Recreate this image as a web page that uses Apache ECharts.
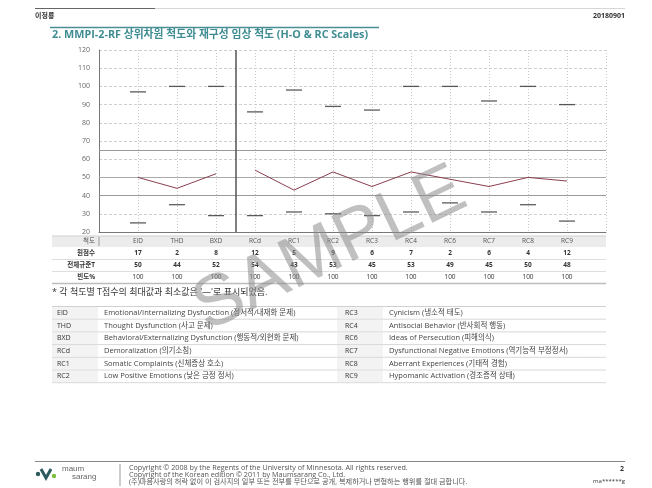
<!DOCTYPE html>
<html>
<head>
<meta charset="utf-8">
<script src="https://cdn.jsdelivr.net/npm/echarts@6/dist/echarts.min.js"></script>
<style>
html,body{margin:0;padding:0;background:#fff;}
#c{width:652px;height:488px;}
</style>
</head>
<body>
<div id="c"></div>
<script>
// ---------- data ----------
const categories = ['EID','THD','BXD','RCd','RC1','RC2','RC3','RC4','RC6','RC7','RC8','RC9'];
const tScores   = [50,44,52,54,43,53,45,53,49,45,50,48];
const maxT      = [97,100,100,86,98,89,87,100,100,92,100,90];
const minT      = [25,35,29,29,31,30,29,31,36,31,35,26];
const rawScores = [17,2,8,12,5,9,6,7,2,6,4,12];
const freqPct   = [100,100,100,100,100,100,100,100,100,100,100,100];
const hoCount = 3; // H-O scales: EID, THD, BXD
const yMin = 20, yMax = 120, yStep = 10;
const refLines = [65,50,40];
const rowLabels = ['원점수','전체규준T','빈도%'];
const descLeftCodes = ['EID','THD','BXD','RCd','RC1','RC2'];
const descLeftText = ['Emotional/Internalizing Dysfunction (정서적/내재화 문제)','Thought Dysfunction (사고 문제)','Behavioral/Externalizing Dysfunction (행동적/외현화 문제)','Demoralization (의기소침)','Somatic Complaints (신체증상 호소)','Low Positive Emotions (낮은 긍정 정서)'];
const descRightCodes = ['RC3','RC4','RC6','RC7','RC8','RC9'];
const descRightText = ['Cynicism (냉소적 태도)','Antisocial Behavior (반사회적 행동)','Ideas of Persecution (피해의식)','Dysfunctional Negative Emotions (역기능적 부정정서)','Aberrant Experiences (기태적 경험)','Hypomanic Activation (경조증적 상태)'];

// ---------- chart ----------
const FONT = '"Open Sans","Noto Sans CJK KR",sans-serif';
const chart = echarts.init(document.getElementById('c'), null, {renderer:'canvas'});

const pos = categories.map((c,i)=>i+1);
const ho = pos.slice(0,hoCount).map((x,i)=>[x,tScores[i]]);
const rc = pos.slice(hoCount).map((x,i)=>[x,tScores[i+hoCount]]);
const maxPts = pos.map((x,i)=>[x,maxT[i]]);
const minPts = pos.map((x,i)=>[x,minT[i]]);

const option = {
  animation:false,
  backgroundColor:'#fff',
  grid:{left:99,right:46,top:50,bottom:256,containLabel:false},
  xAxis:{type:'value',min:0,max:categories.length+1,interval:1,
    axisLabel:{show:false},axisTick:{show:false},
    axisLine:{show:true,lineStyle:{color:'#777',width:1}},
    splitLine:{show:true,lineStyle:{color:'#c8c8c8',type:[1,2],width:1}}},
  yAxis:{type:'value',min:yMin,max:yMax,interval:yStep,
    axisLabel:{fontSize:7,color:'#666',margin:9,fontFamily:FONT},
    axisTick:{show:false},
    axisLine:{show:true,lineStyle:{color:'#777',width:1}},
    splitLine:{show:true,lineStyle:{color:'#cfcfcf',type:[3,2],width:1}}},
  series:[
    {type:'line',data:ho,symbol:'none',lineStyle:{color:'#8a3f4f',width:1},z:5,
     markLine:{silent:true,symbol:'none',label:{show:false},
       data:refLines.map(v=>({yAxis:v,lineStyle:{color:v===50?'#aaa':'#999',width:1,type:'solid'}})).concat([{xAxis:hoCount+0.5,lineStyle:{color:'#555',width:1.5,type:'solid'}}])}},
    {type:'line',data:rc,symbol:'none',lineStyle:{color:'#8a3f4f',width:1},z:5},
    {type:'scatter',data:maxPts,symbol:'rect',symbolSize:[16,1.3],itemStyle:{color:'#333'},z:6},
    {type:'scatter',data:minPts,symbol:'rect',symbolSize:[16,1.3],itemStyle:{color:'#333'},z:6}
  ]
};
chart.setOption(option);

// ---------- page texts & tables ----------
function txt(text,x,y,o){
  o=o||{};
  return {type:'text',silent:true,z:o.z||10,rotation:o.rotation||0,x:x,y:y,
    style:{text:text,x:0,y:0,fill:o.color||'#333',
      font:(o.weight||'normal')+' '+(o.size||7)+'px '+(o.family||FONT),
      align:o.align||'left',textAlign:o.align||'left',
      verticalAlign:'middle',textVerticalAlign:'middle',opacity:o.opacity==null?1:o.opacity}};
}
function rect(x,y,w,h,fill,z){return {type:'rect',silent:true,z:z||1,shape:{x:x,y:y,width:w,height:h},style:{fill:fill}};}
function hline(x1,x2,y,color,w,z){return {type:'line',silent:true,z:z||2,shape:{x1:x1,y1:y,x2:x2,y2:y},style:{stroke:color,lineWidth:w||1}};}
function vline(x,y1,y2,color,w,z){return {type:'line',silent:true,z:z||2,shape:{x1:x,y1:y1,x2:x,y2:y2},style:{stroke:color,lineWidth:w||1}};}

const g=[];
// header
g.push(hline(35,625,8.5,'#d6d6d6',1));
g.push(hline(35,155,8.5,'#666',1.2,3));
g.push(txt('이정룡',35,16,{size:7,weight:'bold',color:'#333'}));
g.push(txt('20180901',625,16,{size:7,weight:'bold',color:'#333',align:'right'}));
g.push(hline(50,379,27.5,'#4a8e93',1.5));
g.push(txt('2. MMPI-2-RF 상위차원 척도와 재구성 임상 척도 (H-O & RC Scales)',52,35,{size:10.8,weight:'bold',color:'#3f8d93'}));

// score table
const tL=52,tR=606;
const colX = pos.map(p=>chart.convertToPixel({xAxisIndex:0},p));
g.push(rect(tL,236,tR-tL,11,'#ececec',1));
g.push(hline(tL,tR,236,'#cfcfcf',1));
g.push(vline(99,237,246,'#999',1));
g.push(txt('척도',95,241.5,{size:6.5,color:'#555',align:'right'}));
categories.forEach((c,i)=>g.push(txt(c,colX[i],241.5,{size:6.5,color:'#555',align:'center'})));
const rowY=[253.5,265.5,277.5];
const rowData=[rawScores,tScores,freqPct];
rowLabels.forEach((l,r)=>{
  g.push(txt(l,95,rowY[r],{size:6.5,weight:'bold',color:'#333',align:'right'}));
  rowData[r].forEach((v,i)=>g.push(txt(String(v),colX[i],rowY[r],{size:6.5,weight:r<2?'bold':'normal',color:'#333',align:'center'})));
  g.push(hline(tL,tR,rowY[r]+6,r===2?'#bdbdbd':'#dedede',r===2?1.5:1));
});
g.push(txt("* 각 척도별 T점수의 최대값과 최소값은 '—'로 표시되었음.",52,292,{size:9,color:'#333'}));

// description table
const dTop=306.5,dRow=12.7;
g.push(hline(tL,tR,dTop,'#d0d0d0',1));
for(let r=0;r<6;r++){
  const y0=dTop+r*dRow, yc=y0+dRow/2;
  g.push(rect(52,y0+0.5,46,dRow-1,'#f3f3f3',1));
  g.push(rect(337,y0+0.5,46,dRow-1,'#f3f3f3',1));
  g.push(txt(descLeftCodes[r],57,yc,{size:7,color:'#333'}));
  g.push(txt(descLeftText[r],104,yc,{size:7.5,color:'#444'}));
  g.push(txt(descRightCodes[r],345,yc,{size:7,color:'#333'}));
  g.push(txt(descRightText[r],389,yc,{size:7.5,color:'#444'}));
  g.push(hline(tL,tR,y0+dRow,'#d8d8d8',1));
}

// footer
g.push(hline(35,625,461.5,'#888',1));
g.push({type:'circle',silent:true,z:5,shape:{cx:38,cy:474,r:2.2},style:{fill:'#2d5a5e'}});
g.push({type:'polyline',silent:true,z:5,shape:{points:[[41,469],[46,478],[51,469]]},style:{stroke:'#2d5a5e',lineWidth:3,fill:null}});
g.push({type:'circle',silent:true,z:5,shape:{cx:54,cy:476,r:2.2},style:{fill:'#7bbf3f'}});
g.push(txt('maum',62,469,{size:8,color:'#666',family:'"Liberation Sans",sans-serif'}));
g.push(txt('sarang',72,477,{size:8,color:'#666',family:'"Liberation Sans",sans-serif'}));
g.push(vline(120,464,486,'#999',1));
g.push(txt('Copyright © 2008 by the Regents of the University of Minnesota. All rights reserved.',129,468,{size:7.2,color:'#555'}));
g.push(txt('Copyright of the Korean edition © 2011 by Maumsarang Co., Ltd.',129,475,{size:7.2,color:'#555'}));
g.push(txt('(주)마음사랑의 허락 없이 이 검사지의 일부 또는 전부를 무단으로 공개, 복제하거나 변형하는 행위를 절대 금합니다.',129,482,{size:7.2,color:'#555'}));
g.push(txt('2',624,469,{size:7,weight:'bold',color:'#333',align:'right'}));
g.push(txt('ma******g',625,481,{size:6,color:'#333',align:'right'}));

// watermark
g.push(txt('SAMPLE',330,250,{size:72,color:'#8c8c8c',opacity:0.55,align:'center',rotation:0.45,z:50,family:'"Liberation Sans",sans-serif'}));

chart.setOption({graphic:{elements:g}});
</script>
</body>
</html>
